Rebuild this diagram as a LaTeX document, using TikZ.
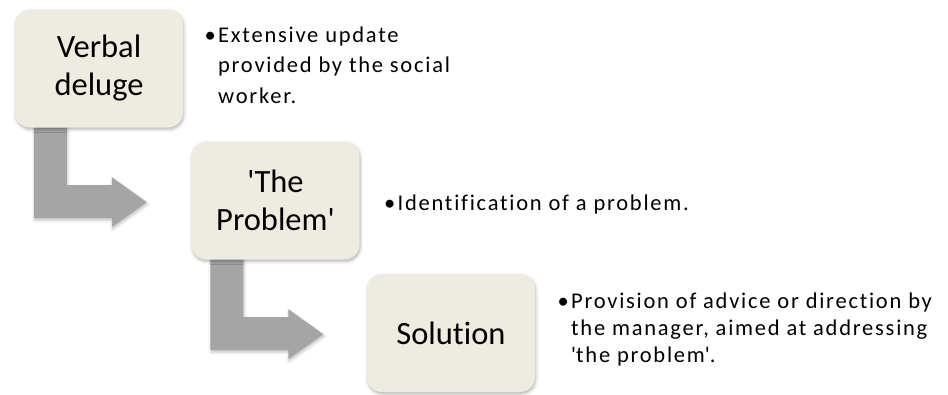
\documentclass[tikz,border=0pt]{standalone}
\usepackage{fontspec}
\setmainfont{Carlito}[Ligatures={NoCommon}]
\newfontfamily\bulletfont{Carlito}[LetterSpace=7.8,Ligatures={NoCommon}]
\usetikzlibrary{shadows.blur,backgrounds}
\definecolor{boxfill}{HTML}{EEECE1}
\definecolor{arrowgray}{HTML}{A5A5A5}
\newcommand{\bulletmark}{\llap{\makebox[13.5pt][l]{•}}}
\begin{document}
\begin{tikzpicture}[x=1pt,y=-1pt,
  stagebox/.style={fill=boxfill, rounded corners=15pt, minimum width=168pt,
    minimum height=118pt, inner sep=0pt, align=center,
    font=\fontsize{32.5}{38}\selectfont,
    blur shadow={shadow xshift=0.8pt, shadow yshift=-2pt, shadow blur radius=3pt, shadow opacity=30}},
  bendarrow/.style={fill=arrowgray,
    blur shadow={shadow xshift=0.8pt, shadow yshift=-2pt, shadow blur radius=3pt, shadow opacity=25}},
  bullettext/.style={anchor=base west, inner sep=0pt, align=left,
    font=\bulletfont\fontsize{22.5}{30.5}\selectfont}]
\useasboundingbox (0,0) rectangle (948,394);
\node[stagebox] (b1) at (99,68.5) {Verbal\\deluge};
\node[stagebox] (b2) at (275.5,200.5) {\textquotesingle The\\Problem\textquotesingle};
\node[stagebox] (b3) at (451,333) {Solution};
\begin{scope}[on background layer]
  \begin{scope}[shift={(b1.south west)}]
    \fill[bendarrow] (19,-7.5) -- (52,-7.5) -- (52,57.5) -- (97,57.5) -- (97,49.5)
      -- (132,74.5) -- (97,99.5) -- (97,90.5) -- (19,90.5) -- cycle;
  \end{scope}
  \begin{scope}[shift={(b2.south west)}]
    \fill[bendarrow] (19,-7.5) -- (52,-7.5) -- (52,57.5) -- (97,57.5) -- (97,49.5)
      -- (132,74.5) -- (97,99.5) -- (97,90.5) -- (19,90.5) -- cycle;
  \end{scope}
\end{scope}
\node[bullettext] (t1) at (218,103.3)
  {\bulletmark Extensive update\\provided by the social\\worker.};
\node[bullettext] (t2) at (397.5,210)
  {\bulletmark Identification of a problem.};
\node[bullettext, font=\bulletfont\fontsize{22.5}{27}\selectfont] (t3) at (571,362)
  {\bulletmark Provision of advice or direction by\\the manager, aimed at addressing\\\textquotesingle the problem\textquotesingle.};
\end{tikzpicture}
\end{document}
